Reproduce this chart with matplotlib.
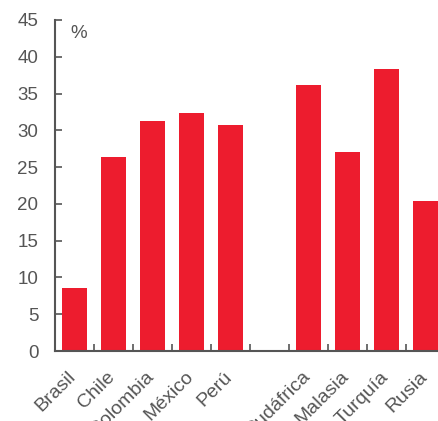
import matplotlib
matplotlib.use("Agg")
import matplotlib.pyplot as plt
import matplotlib.transforms as mtransforms
import numpy as np

categories = ["Brasil", "Chile", "Colombia", "México", "Perú", "", "Sudáfrica", "Malasia", "Turquía", "Rusia"]
values = [8.6, 26.4, 31.3, 32.3, 30.7, np.nan, 36.1, 27.0, 38.4, 20.4]
yticks = [0, 5, 10, 15, 20, 25, 30, 35, 40, 45]

plt.rcParams['font.family'] = ['Liberation Sans', 'DejaVu Sans']
W, H = 439, 421
fig = plt.figure(figsize=(W/100, H/100), dpi=100)
left, right, bottom, top = 55, 445, 351, 20
ax = fig.add_axes([left/W, (H-bottom)/H, (right-left)/W, (bottom-top)/H])

x = np.arange(len(categories))
ax.bar(x, values, width=0.66, color="#ED1C2E", zorder=2)
ax.set_xlim(-0.5, len(categories)-0.5)
ax.set_ylim(0, 45)
ax.set_yticks(yticks)
ax.set_yticklabels([str(t) for t in yticks])

gray = "#555555"
for s in ["top", "right"]:
    ax.spines[s].set_visible(False)
for s in ["left", "bottom"]:
    ax.spines[s].set_color(gray)
    ax.spines[s].set_linewidth(1.5)

ax.set_xticks(x)
ax.set_xticklabels(categories, rotation=45, ha="right", rotation_mode="anchor")
ax.set_xticks(np.arange(-0.5, len(categories)), minor=True)
ax.tick_params(axis="x", which="major", length=0, pad=8, labelsize=14, labelcolor=gray)
ax.tick_params(axis="x", which="minor", direction="in", length=5, width=1.2, color=gray)
ax.tick_params(axis="y", direction="in", length=5, width=1.2, color=gray, labelsize=13.5, labelcolor=gray, pad=12)
offset = mtransforms.ScaledTranslation(-7/100, -6/100, fig.dpi_scale_trans)
for lbl in ax.get_xticklabels():
    lbl.set_transform(lbl.get_transform() + offset)
ax.text(0.04, 0.985, "%", transform=ax.transAxes, fontsize=13.5, color=gray, va="top", ha="left")

fig.savefig("out.png", dpi=100)
